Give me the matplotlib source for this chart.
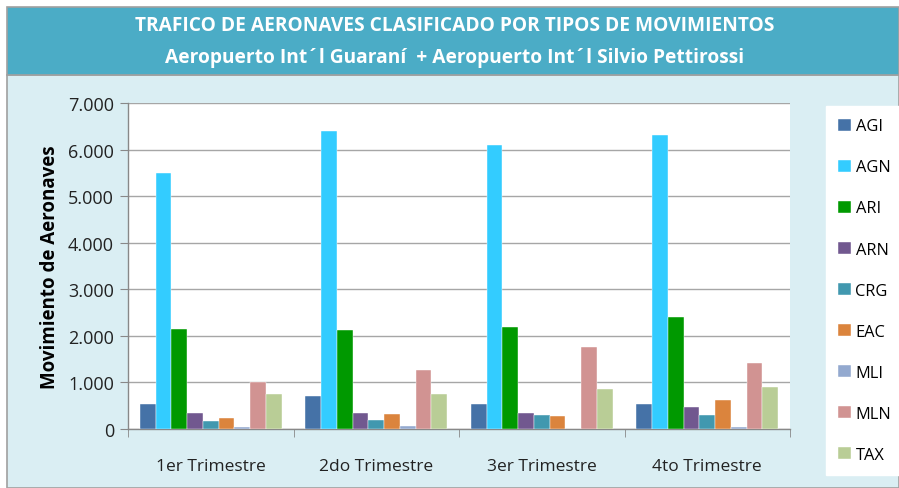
import numpy as np
import matplotlib
matplotlib.use("Agg")
import matplotlib.pyplot as plt
from matplotlib.patches import Rectangle
from matplotlib.ticker import FuncFormatter

trimestres = ["1er Trimestre", "2do Trimestre", "3er Trimestre", "4to Trimestre"]
tipos = ["AGI", "AGN", "ARI", "ARN", "CRG", "EAC", "MLI", "MLN", "TAX"]

agi = [540, 710, 545, 545]
agn = [5500, 6400, 6090, 6310]
ari = [2150, 2120, 2190, 2405]
arn = [350, 350, 350, 475]
crg = [180, 200, 300, 290]
eac = [237, 323, 280, 618]
mli = [40, 65, 10, 40]
mln = [1000, 1270, 1760, 1415]
tax = [760, 760, 860, 905]

colores = ["#4572A7", "#33CCFF", "#009900", "#71588F", "#4198AF",
           "#DB843D", "#93A9CF", "#D19392", "#B9CD96"]

series = [agi, agn, ari, arn, crg, eac, mli, mln, tax]

plt.rcParams["font.family"] = ["Open Sans", "DejaVu Sans"]

fig = plt.figure(figsize=(8.99, 4.89), dpi=100)
fig.patch.set_facecolor("white")

# Fondo celeste y banda del titulo
W, H = 899, 489
fig.patches.append(Rectangle((7 / W, 0), 1 - 7 / W, (H - 76) / H, transform=fig.transFigure,
                             facecolor="#DAEEF3", edgecolor="#A0A0A0", linewidth=1.2, zorder=-2))
fig.patches.append(Rectangle((7 / W, (H - 76) / H), 1 - 7 / W, 68 / H, transform=fig.transFigure,
                             facecolor="#4BACC6", edgecolor="#A0A0A0", linewidth=1.2, zorder=-2))

fig.text(455 / W, 1 - 26 / H, "TRAFICO DE AERONAVES CLASIFICADO POR TIPOS DE MOVIMIENTOS",
         ha="center", va="center", color="white", fontsize=13.8, fontweight="bold")
fig.text(455 / W, 1 - 58 / H, "Aeropuerto Int´l Guaraní  + Aeropuerto Int´l Silvio Pettirossi",
         ha="center", va="center", color="white", fontsize=13.8, fontweight="bold")

ax = fig.add_axes([128 / W, (H - 430) / H, (790 - 128) / W, (430 - 104) / H])
ax.set_facecolor("white")

x = np.arange(len(trimestres))
n = len(tipos)
ancho = 1 / (n + 1.5)
for i, (nombre, vals) in enumerate(zip(tipos, series)):
    pos = x - (n * ancho) / 2 + ancho * (i + 0.5)
    ax.bar(pos, vals, width=ancho, color=colores[i], label=nombre, zorder=3,
           edgecolor="white", linewidth=0.3)

ax.set_xlim(-0.5, len(trimestres) - 0.5)
ax.set_ylim(0, 7000)
ax.set_yticks(range(0, 7001, 1000))
ax.yaxis.set_major_formatter(FuncFormatter(lambda v, p: f"{int(v):,}".replace(",", ".")))
ax.grid(axis="y", color="#A6A6A6", linewidth=1, zorder=0)

ax.set_xticks(x)
ax.set_xticklabels(trimestres, fontsize=12.5, color="#222222")
ax.set_xticks(np.arange(-0.5, len(trimestres)), minor=True)
ax.tick_params(axis="x", which="major", length=0, pad=21)
ax.tick_params(axis="x", which="minor", length=6, color="#888888")
ax.tick_params(axis="y", length=6, color="#888888", labelsize=13, labelcolor="#222222", pad=4)

for s in ["top", "right"]:
    ax.spines[s].set_visible(False)
for s in ["left", "bottom"]:
    ax.spines[s].set_color("#888888")
    ax.spines[s].set_linewidth(1)

ax.set_ylabel("Movimiento de Aeronaves", fontsize=13.5, fontweight="bold", labelpad=6)

leg = fig.legend(loc="upper left", bbox_to_anchor=(826 / W, 1 - 107 / H), frameon=True,
                 fontsize=11.8, labelspacing=1.53, handlelength=0.75, handleheight=0.75,
                 handletextpad=0.3, borderpad=0.75, fancybox=False, borderaxespad=0,
                 framealpha=1)
leg.get_frame().set_edgecolor("white")
leg.get_frame().set_facecolor("white")

fig.savefig("out.png", dpi=100, facecolor=fig.get_facecolor())
